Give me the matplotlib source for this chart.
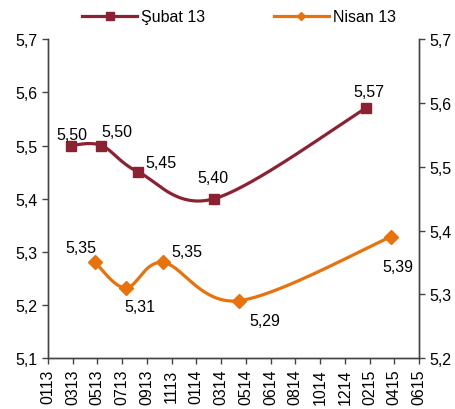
import numpy as np
import matplotlib
matplotlib.use("Agg")
import matplotlib.pyplot as plt
from matplotlib.ticker import FuncFormatter, FixedLocator
from matplotlib.lines import Line2D

plt.rcParams['font.family'] = ['Liberation Sans', 'DejaVu Sans']
plt.rcParams['font.size'] = 11

# x ekseni etiketleri (ay-yıl)
tick_labels = ['0113', '0313', '0513', '0713', '0913', '1113', '0114', '0314',
               '0514', '0614', '0814', '1014', '1214', '0215', '0415', '0615']

# Şubat 13 beklentileri (sol eksen); x = eksen üzerindeki konum (etiket sırası cinsinden)
subat_x = [0.92, 2.16, 3.66, 6.73, 12.84]
subat_y = [5.50, 5.50, 5.45, 5.40, 5.57]

# Nisan 13 beklentileri (sağ eksen)
nisan_x = [1.91, 3.15, 4.66, 7.71, 13.85]
nisan_y = [5.35, 5.31, 5.35, 5.29, 5.39]

subat_color = '#8C2131'
nisan_color = '#E8720C'


def smooth(xs, ys, n=40):
    # Excel tarzı yumuşatılmış çizgi (Catmull-Rom / Bezier)
    pts = np.column_stack([xs, ys]).astype(float)
    ext = np.vstack([pts[0], pts, pts[-1]])
    out = []
    t = np.linspace(0, 1, n)[:, None]
    for i in range(1, len(ext) - 2):
        p0, p1, p2, p3 = ext[i - 1], ext[i], ext[i + 1], ext[i + 2]
        c1 = p1 + (p2 - p0) / 6
        c2 = p2 - (p3 - p1) / 6
        seg = ((1 - t) ** 3) * p1 + 3 * ((1 - t) ** 2) * t * c1 + 3 * (1 - t) * t ** 2 * c2 + t ** 3 * p2
        out.append(seg)
    out = np.vstack(out)
    return out[:, 0], out[:, 1]


comma = FuncFormatter(lambda v, p: f'{v:.1f}'.replace('.', ','))

fig = plt.figure(figsize=(4.56, 4.10), dpi=100)
ax = fig.add_axes([0.105, 0.124, 0.814, 0.778])
ax2 = ax.twinx()

sx, sy = smooth(subat_x, subat_y)
ax.plot(sx, sy, color=subat_color, lw=2.3, solid_capstyle='round')
ax.plot(subat_x, subat_y, 's', color=subat_color, ms=7)

nx, ny = smooth(nisan_x, nisan_y)
ax2.plot(nx, ny, color=nisan_color, lw=2.3, solid_capstyle='round')
ax2.plot(nisan_x, nisan_y, 'D', color=nisan_color, ms=7.5)

# veri etiketleri (ofsetler punto cinsinden)
subat_off = [(1, 8), (11, 10), (16, 7), (-1, 15), (2, 12)]
nisan_off = [(-10, 11), (10, -13), (17, 8), (19, -14), (5, -21)]
for x, y, off in zip(subat_x, subat_y, subat_off):
    ax.annotate(f'{y:.2f}'.replace('.', ','), (x, y), xytext=off, textcoords='offset points',
                ha='center', va='center', fontsize=11.5)
for x, y, off in zip(nisan_x, nisan_y, nisan_off):
    ax2.annotate(f'{y:.2f}'.replace('.', ','), (x, y), xytext=off, textcoords='offset points',
                 ha='center', va='center', fontsize=11.5)

ax.set_xlim(0, len(tick_labels) - 1)
ax.xaxis.set_major_locator(FixedLocator(range(len(tick_labels))))
ax.set_xticklabels(tick_labels, rotation=90)
ax.set_ylim(5.1, 5.7)
ax.set_yticks(np.arange(5.1, 5.71, 0.1))
ax.yaxis.set_major_formatter(comma)
ax2.set_ylim(5.2, 5.7)
ax2.set_yticks(np.arange(5.2, 5.71, 0.1))
ax2.yaxis.set_major_formatter(comma)

for a in (ax, ax2):
    a.spines['top'].set_visible(False)
    for s in a.spines.values():
        s.set_color('#444444')
        s.set_linewidth(1)
    a.tick_params(colors='#444444', labelcolor='black', length=4, width=1, labelsize=11.5)

handles = [Line2D([], [], color=subat_color, lw=2.3, marker='s', ms=6),
           Line2D([], [], color=nisan_color, lw=2.3, marker='D', ms=4)]
fig.legend(handles, ['Şubat 13', 'Nisan 13'], loc='upper center', bbox_to_anchor=(0.525, 1.01), ncol=2,
           frameon=False, handlelength=3.4, columnspacing=4.3, fontsize=11.5, handletextpad=0.3)

fig.savefig('out.png', dpi=100)
